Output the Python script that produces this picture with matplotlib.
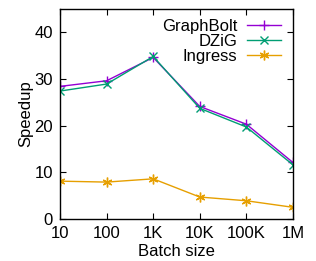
import matplotlib
matplotlib.use("Agg")
import matplotlib.pyplot as plt

categories = ["10", "100", "1K", "10K", "100K", "1M"]
graphbolt = [28.4, 29.6, 34.6, 24.1, 20.3, 12.1]
dzig = [27.4, 28.9, 34.8, 23.7, 19.7, 11.6]
ingress = [8.1, 7.9, 8.6, 4.7, 3.9, 2.5]
yticks = [0, 10, 20, 30, 40]

plt.rcParams['font.family'] = ['Liberation Sans', 'DejaVu Sans']
fig = plt.figure(figsize=(3.16, 2.61), dpi=100)
ax = fig.add_axes([0.19, 0.161, 0.737, 0.805])
x = list(range(len(categories)))
ax.plot(x, graphbolt, color='#9400d3', marker='+', markersize=7, lw=1, mew=1, label='GraphBolt')
ax.plot(x, dzig, color='#009e73', marker='x', markersize=6, lw=1, mew=1, label='DZiG')
ax.plot(x, ingress, color='#e69f00', marker=(6, 2, 0), markersize=7, lw=1, mew=1, label='Ingress')
ax.set_xlim(0, len(categories) - 1)
ax.set_ylim(0, 45)
ax.set_xticks(x)
ax.set_xticklabels(categories)
ax.set_yticks(yticks)
ax.tick_params(direction='in', top=True, right=True, labelsize=12, length=4, width=0.8, pad=5)
for s in ax.spines.values():
    s.set_linewidth(1)
ax.set_xlabel('Batch size', fontsize=12, labelpad=2)
ax.set_ylabel('Speedup', fontsize=12, labelpad=1)
leg = ax.legend(loc='upper right', frameon=False, markerfirst=False, fontsize=12,
                handlelength=2.0, handletextpad=0.6, labelspacing=0.0,
                borderaxespad=0.2, bbox_to_anchor=(0.99, 1.0))
for t in leg.get_texts():
    t.set_ha('right')
fig.savefig('out.png', dpi=100)
